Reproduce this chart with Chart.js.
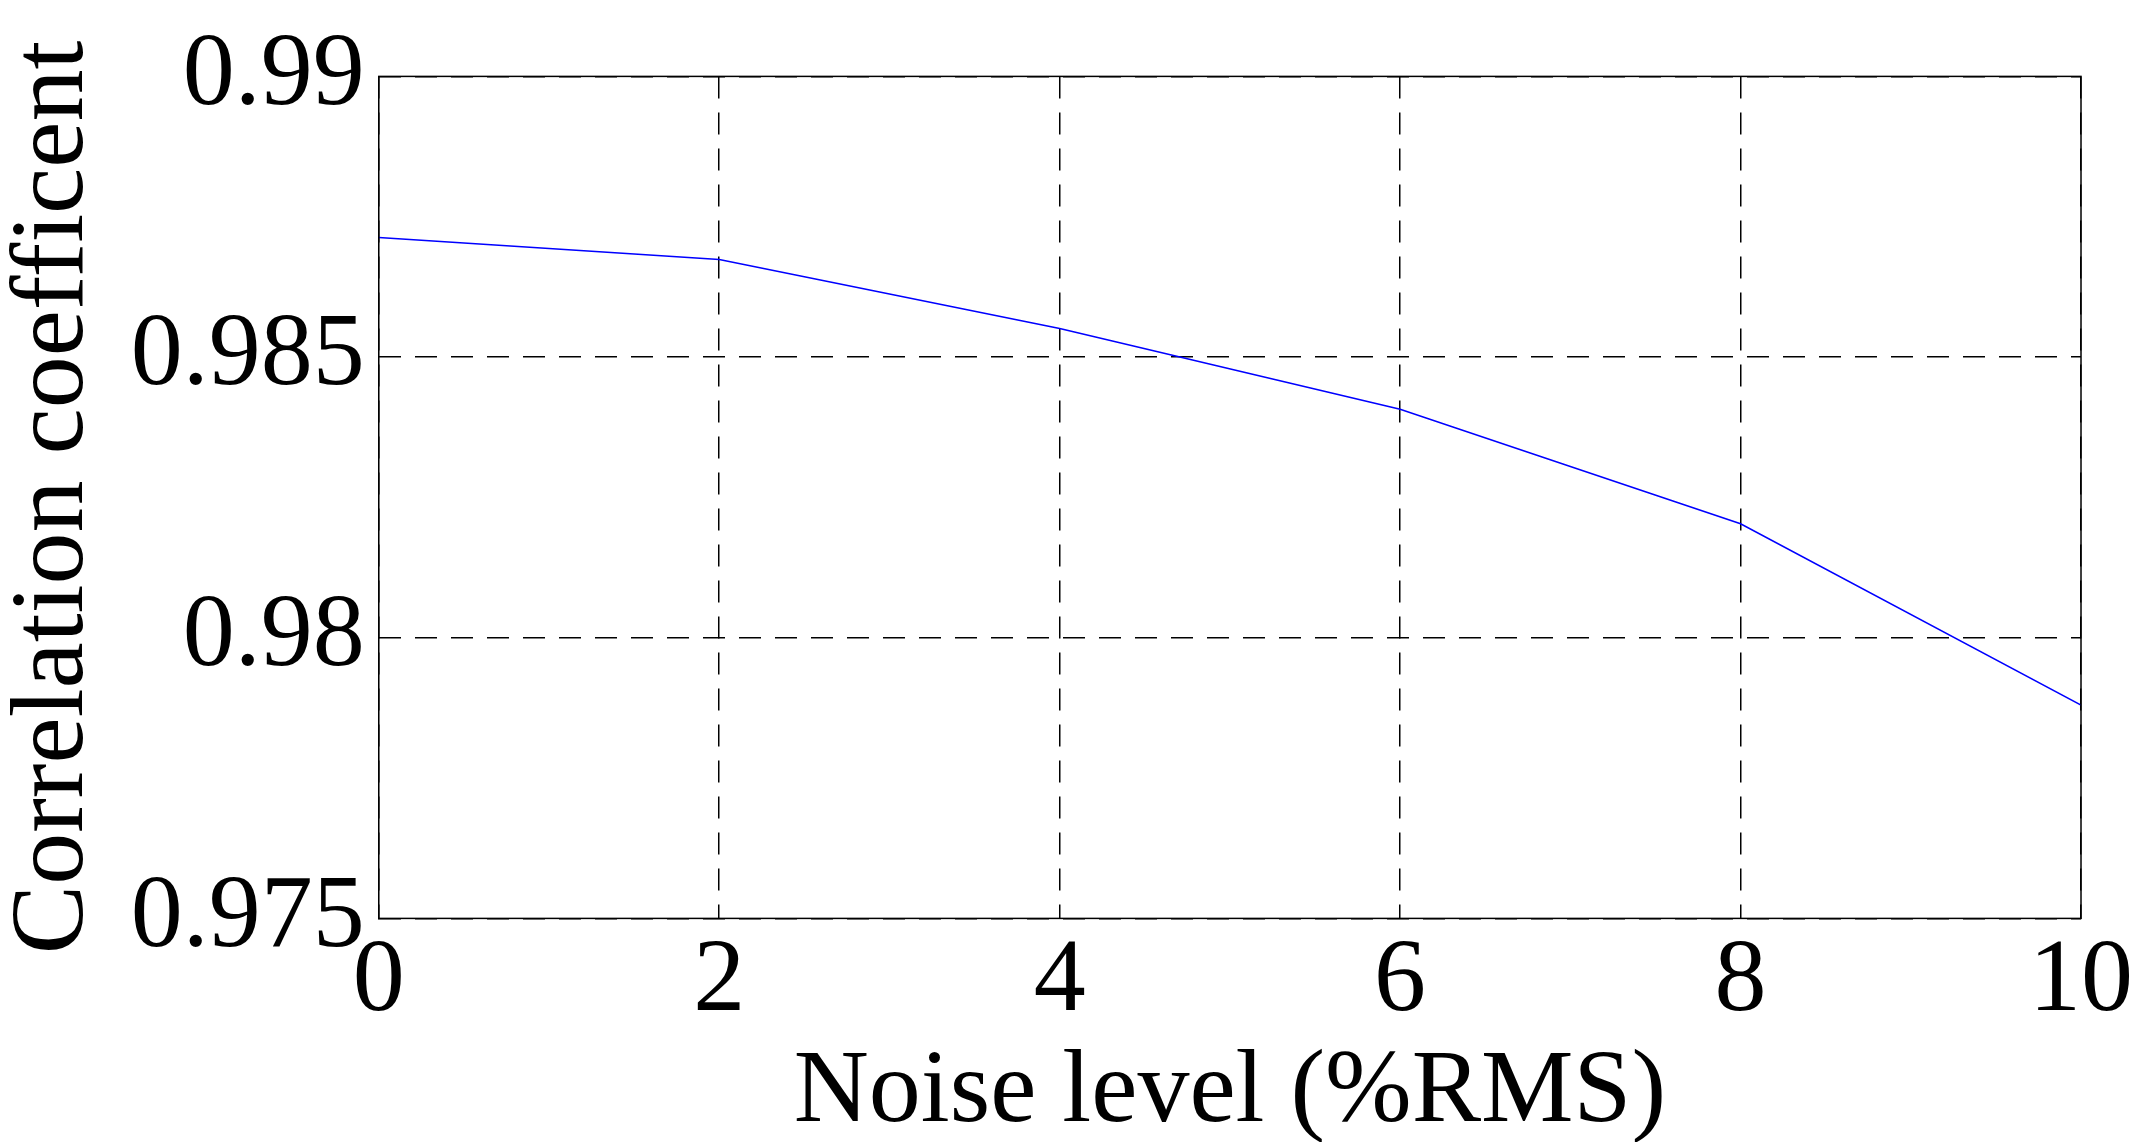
<!DOCTYPE html>
<html><head><style>html,body{margin:0;padding:0;background:#fff;}canvas{display:block;}</style>
<script src="https://cdn.jsdelivr.net/npm/chart.js@4"></script></head>
<body><canvas id="c" width="2135" height="1142"></canvas>
<script>
const noiseLevels = [0, 2, 4, 6, 8, 10];
const correlation = [0.98713, 0.98674, 0.98551, 0.98407, 0.98203, 0.97880];
const yTickLabels = ['0.975', '0.98', '0.985', '0.99'];
const xTitle = 'Noise level (%RMS)';
const yTitle = 'Correlation coefficent';
const font = 'Liberation Serif';
const boxPlugin = {id:'box', afterDraw(ch){const a=ch.chartArea,c=ch.ctx;c.save();c.strokeStyle='#000';c.lineWidth=1.5;c.strokeRect(a.left,a.top,a.right-a.left,a.bottom-a.top);c.restore();}};
new Chart(document.getElementById('c'), {
  type:'line',
  data:{datasets:[{data:noiseLevels.map((x,i)=>({x,y:correlation[i]})),borderColor:'#0000ff',borderWidth:1.5,pointRadius:0,tension:0}]},
  options:{responsive:false,animation:false,
    layout:{padding:{top:26,right:52,left:0,bottom:0}},
    plugins:{legend:{display:false},tooltip:{enabled:false}},
    scales:{
      x:{type:'linear',min:0,max:10,ticks:{stepSize:2,color:'#000',font:{family:font,size:104},padding:2},
        grid:{color:'#000',lineWidth:1.5,drawTicks:false},border:{dash:[22,14],color:'#000'},
        title:{display:true,text:xTitle,color:'#000',font:{family:font,size:104},padding:{top:-16,bottom:-14}}},
      y:{min:0.975,max:0.99,ticks:{stepSize:0.005,color:'#000',font:{family:font,size:104},padding:14,
          callback:(v,i)=>yTickLabels[i]},
        grid:{color:'#000',lineWidth:1.5,drawTicks:false},border:{dash:[22,14],color:'#000'},
        title:{display:true,text:yTitle,color:'#000',font:{family:font,size:104},padding:{top:-8,bottom:0}}}
    }},
  plugins:[boxPlugin]
});
</script></body></html>
